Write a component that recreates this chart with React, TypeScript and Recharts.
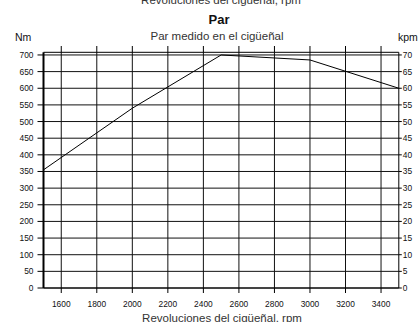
import React from "react";
import {
  LineChart,
  Line,
  XAxis,
  YAxis,
  CartesianGrid,
} from "recharts";

// engine speed (rpm) and measured crankshaft torque (Nm)
const rpm = [1500, 2000, 2500, 3000, 3500];
const torqueNm = [355, 540, 700, 685, 600];

const rpmTicks = [1600, 1800, 2000, 2200, 2400, 2600, 2800, 3000, 3200, 3400];
const nmTicks = [0, 50, 100, 150, 200, 250, 300, 350, 400, 450, 500, 550, 600, 650, 700];
const kpmTicks = [0, 5, 10, 15, 20, 25, 30, 35, 40, 45, 50, 55, 60, 65, 70];

const W = 418;
const H = 322;

const tickFont = {
  fontFamily: "'Liberation Sans Narrow', 'Arial Narrow', 'Liberation Sans', Arial, sans-serif",
  fontSize: 8.4,
  fill: "#111",
};
const textFont = "'Liberation Sans', Arial, Helvetica, sans-serif";

// top axis: tick marks only, no labels
const NoLabel = () => <g />;

export default function App() {
  const data = rpm.map((r, i) => ({ rpm: r, nm: torqueNm[i] }));

  return (
    <div style={{ position: "absolute", left: 0, top: 0, width: W, height: H, background: "#fff" }}>
      <LineChart
        width={W}
        height={H}
        data={data}
        margin={{ top: 46, right: 0, bottom: 0, left: 0 }}
      >
        <CartesianGrid
          xAxisId="bottom"
          yAxisId="nm"
          stroke="#111"
          strokeWidth={1}
          syncWithTicks
        />
        <XAxis
          xAxisId="bottom"
          dataKey="rpm"
          type="number"
          domain={[1500, 3500]}
          ticks={rpmTicks}
          interval={0}
          height={34}
          tickSize={5}
          tickMargin={7.7}
          stroke="#000"
          tick={tickFont}
          axisLine={{ stroke: "#000" }}
          tickLine={{ stroke: "#000" }}
        />
        <XAxis
          xAxisId="top"
          orientation="top"
          dataKey="rpm"
          type="number"
          domain={[1500, 3500]}
          ticks={rpmTicks}
          interval={0}
          height={6.3}
          tickSize={6.3}
          tick={<NoLabel />}
          axisLine={{ stroke: "#000" }}
          tickLine={{ stroke: "#000" }}
        />
        <YAxis
          yAxisId="nm"
          type="number"
          domain={[0, 708]}
          ticks={nmTicks}
          interval={0}
          width={43.5}
          tickSize={6}
          tickMargin={4}
          tick={tickFont}
          axisLine={{ stroke: "#000", strokeWidth: 2 }}
          tickLine={{ stroke: "#000" }}
          allowDataOverflow
        />
        <YAxis
          yAxisId="kpm"
          orientation="right"
          type="number"
          domain={[0, 70.8]}
          ticks={kpmTicks}
          interval={0}
          width={19.2}
          tickSize={3}
          tickMargin={1}
          tick={tickFont}
          axisLine={{ stroke: "#000" }}
          tickLine={{ stroke: "#000" }}
          allowDataOverflow
        />
        <Line
          xAxisId="bottom"
          yAxisId="nm"
          type="linear"
          dataKey="nm"
          stroke="#000"
          strokeWidth={1}
          dot={false}
          isAnimationActive={false}
        />
      </LineChart>
      <svg
        width={W}
        height={H}
        style={{ position: "absolute", left: 0, top: 0, pointerEvents: "none" }}
      >
        <text x={221} y={4} textAnchor="middle" fontFamily={textFont} fontSize={11.5} fill="#333">
          Revoluciones del cigüeñal, rpm
        </text>
        <text x={219} y={24} textAnchor="middle" fontFamily={textFont} fontSize={13} fontWeight="bold" fill="#111">
          Par
        </text>
        <text x={217} y={40} textAnchor="middle" fontFamily={textFont} fontSize={11.5} fill="#333">
          Par medido en el cigüeñal
        </text>
        <text x={15} y={40.5} fontFamily={textFont} fontSize={10.5} fill="#111">
          Nm
        </text>
        <text x={398} y={40.5} fontFamily={textFont} fontSize={10.5} fill="#111">
          kpm
        </text>
        <text x={222} y={321.5} textAnchor="middle" fontFamily={textFont} fontSize={11.5} fill="#333">
          Revoluciones del cigüeñal, rpm
        </text>
      </svg>
    </div>
  );
}
